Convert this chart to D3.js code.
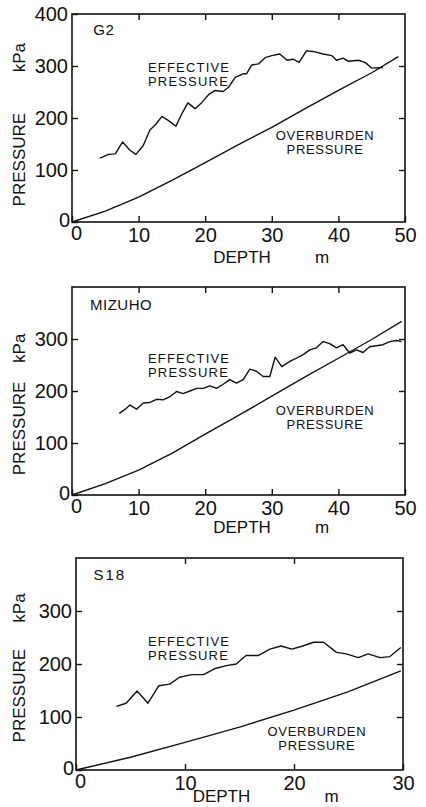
<!DOCTYPE html>
<html>
<head>
<meta charset="utf-8">
<script src="https://cdn.jsdelivr.net/npm/d3@7/dist/d3.min.js"></script>
<style>
  body { margin: 0; background: #fff; }
  svg text { font-family: "Liberation Sans", Arial, sans-serif; fill: #111; }
  .tick line { stroke: #111; stroke-width: 1.4; }
</style>
</head>
<body>
<div id="chart"></div>
<script>
// Pressure vs depth at three sites (G2, MIZUHO, S18)

// ---- data: [depth m, pressure kPa] ----
const g2Effective = [[4.2,123],[5.5,130],[6.5,131],[7.6,154],[8.7,138],[9.6,130],[10.7,147],[11.7,177],
  [12.6,188],[13.5,203],[14.5,195],[15.6,184],[16.6,211],[17.4,229],[18.5,218],[19.5,230],[20.6,246],
  [21.5,253],[22.7,251],[23.5,259],[24.5,278],[25.7,285],[26.2,285],[27,302],[28,304],[29,316],[30,320],
  [31.2,323],[32.3,311],[33.2,313],[34.1,307],[35.2,329],[36.2,328],[37.7,323],[39,320],[39.7,311],
  [40.7,315],[41.5,309],[43,311],[44,307],[45,296],[46.7,297]];
const g2Overburden = [[0,0],[5,21],[10,48],[15,80],[20,114],[25,149],[30,182],[35,218],[40,253],[45,287],[49,318]];

const mizuhoEffective = [[7.1,157],[8,165],[8.7,173],[9.7,165],[10.7,177],[11.7,178],[12.7,184],[13.7,183],
  [14.7,189],[15.7,199],[16.7,195],[17.7,200],[18.7,205],[19.7,205],[20.7,210],[21.7,205],[22.7,213],
  [23.7,222],[24.7,215],[25.7,222],[26.7,242],[27.7,238],[28.7,228],[29.7,228],[30.5,265],[31.5,247],
  [32.7,257],[33.7,263],[34.7,270],[35.7,279],[36.7,283],[37.7,295],[38.7,291],[39.7,283],[40.7,289],
  [41.7,273],[42.7,279],[43.7,274],[44.7,285],[45.7,287],[46.7,289],[47.7,295],[48.7,297],[49.5,295]];
const mizuhoOverburden = [[0,0],[5,22],[10,48],[15,80],[20,117],[25,153],[30,190],[35,227],[40,263],[45,299],[49.5,334]];

const s18Effective = [[3.7,120],[4.6,126],[5.6,149],[6.6,126],[7.6,159],[8.6,162],[9.5,175],[10.6,180],
  [11.7,180],[12.7,191],[13.8,197],[14.7,200],[15.6,216],[16.7,216],[17.8,228],[18.8,234],[19.8,228],
  [20.8,234],[21.8,241],[22.7,241],[23.9,222],[24.8,219],[25.9,212],[26.8,219],[27.9,212],[28.8,214],[29.8,231]];
const s18Overburden = [[0,0],[5,24],[10,52],[15,81],[20,113],[25,148],[29.8,187]];

const yTicksG2 = [0, 100, 200, 300, 400];
const yTicksOther = [0, 100, 200, 300];
const xTicks50 = [0, 10, 20, 30, 40, 50];
const xTicks30 = [0, 10, 20, 30];

// ---- layout per panel (pixels for frame, data units for label anchors) ----
const panels = [
  { name: 'G2', eff: g2Effective, over: g2Overburden, xMax: 50, xTicks: xTicks50, yTicks: yTicksG2,
    left: 72, right: 405, top: 14, bottom: 222,
    title: [3.2, 359], effLabel: [11.4, 288], overLabel: [38, 157],
    yLabel: [30, 288], xLabel: [21.2, 36.5], xLabelDy: 41 },
  { name: 'MIZUHO', eff: mizuhoEffective, over: mizuhoOverburden, xMax: 50, xTicks: xTicks50, yTicks: yTicksOther,
    left: 72, right: 405, top: 287, bottom: 495,
    title: [2.7, 356], effLabel: [11.4, 254], overLabel: [38, 154],
    yLabel: [38, 254], xLabel: [21.2, 36.5], xLabelDy: 38 },
  { name: 'S18', eff: s18Effective, over: s18Overburden, xMax: 30, xTicks: xTicks30, yTicks: yTicksOther,
    left: 76, right: 403, top: 558, bottom: 770,
    title: [1.6, 358], effLabel: [6.6, 234], overLabel: [22.1, 64],
    yLabel: [52, 278], xLabel: [10.7, 22.8], xLabelDy: 32 }
];

const svg = d3.select('#chart').append('svg')
  .attr('width', 426)
  .attr('height', 807);

svg.append('rect').attr('width', 426).attr('height', 807).attr('fill', '#fff');

panels.forEach(p => {
  const x = d3.scaleLinear().domain([0, p.xMax]).range([p.left, p.right]);
  const y = d3.scaleLinear().domain([0, 400]).range([p.bottom, p.top]);
  const g = svg.append('g');

  // frame
  g.append('rect')
    .attr('x', p.left).attr('y', p.top)
    .attr('width', p.right - p.left).attr('height', p.bottom - p.top)
    .attr('fill', 'none').attr('stroke', '#111').attr('stroke-width', 1.6);

  // axes with inward ticks
  const left = g.append('g').attr('transform', `translate(${p.left},0)`)
    .call(d3.axisLeft(y).tickValues(p.yTicks).tickSizeInner(-6).tickSizeOuter(0).tickPadding(4));
  const bottom = g.append('g').attr('transform', `translate(0,${p.bottom})`)
    .call(d3.axisBottom(x).tickValues(p.xTicks).tickSizeInner(-6).tickSizeOuter(0).tickPadding(6));
  g.append('g').attr('transform', `translate(${p.right},0)`)
    .call(d3.axisRight(y).tickValues([100, 200, 300]).tickSizeInner(-6).tickSizeOuter(0).tickFormat(''));
  g.append('g').attr('transform', `translate(0,${p.top})`)
    .call(d3.axisTop(x).tickValues(p.xTicks.slice(1, -1)).tickSizeInner(-6).tickSizeOuter(0).tickFormat(''));

  g.selectAll('.domain').remove();
  [left, bottom].forEach(a => a.selectAll('text')
    .style('font-family', '"Liberation Sans", Arial, sans-serif')
    .style('font-size', '20px').attr('fill', '#111'));
  left.selectAll('.tick').filter(d => d === 0).select('text').attr('dy', '0.2em').attr('x', -2);
  bottom.selectAll('.tick').filter(d => d === 0).select('text').attr('dx', 4).attr('dy', '0.6em');

  // lines
  const line = d3.line().x(d => x(d[0])).y(d => y(d[1]));
  g.append('path').datum(p.eff).attr('d', line)
    .attr('fill', 'none').attr('stroke', '#111').attr('stroke-width', 1.4).attr('stroke-linejoin', 'round');
  g.append('path').datum(p.over).attr('d', line)
    .attr('fill', 'none').attr('stroke', '#111').attr('stroke-width', 1.4);

  // title
  g.append('text').attr('x', x(p.title[0])).attr('y', y(p.title[1]))
    .style('font-size', '15px').style('letter-spacing', p.name === 'S18' ? '2px' : '0.5px').text(p.name);

  // annotations
  const eff = g.append('text').style('font-size', '13px').style('letter-spacing', '1.2px');
  eff.append('tspan').attr('x', x(p.effLabel[0])).attr('y', y(p.effLabel[1])).text('EFFECTIVE');
  eff.append('tspan').attr('x', x(p.effLabel[0])).attr('dy', 14).text('PRESSURE');
  const over = g.append('text').style('font-size', '13px').style('letter-spacing', '0.7px')
    .attr('text-anchor', 'middle');
  over.append('tspan').attr('x', x(p.overLabel[0])).attr('y', y(p.overLabel[1])).text('OVERBURDEN');
  over.append('tspan').attr('x', x(p.overLabel[0])).attr('dy', 14).text('PRESSURE');

  // axis titles
  g.append('text').attr('transform', `translate(25,${y(p.yLabel[0])}) rotate(-90)`)
    .style('font-size', '17px').text('PRESSURE');
  g.append('text').attr('transform', `translate(25,${y(p.yLabel[1])}) rotate(-90)`)
    .style('font-size', '17px').text('kPa');
  g.append('text').attr('x', x(p.xLabel[0])).attr('y', p.bottom + p.xLabelDy)
    .style('font-size', '17px').text('DEPTH');
  g.append('text').attr('x', x(p.xLabel[1])).attr('y', p.bottom + p.xLabelDy)
    .style('font-size', '17px').text('m');
});
</script>
</body>
</html>
